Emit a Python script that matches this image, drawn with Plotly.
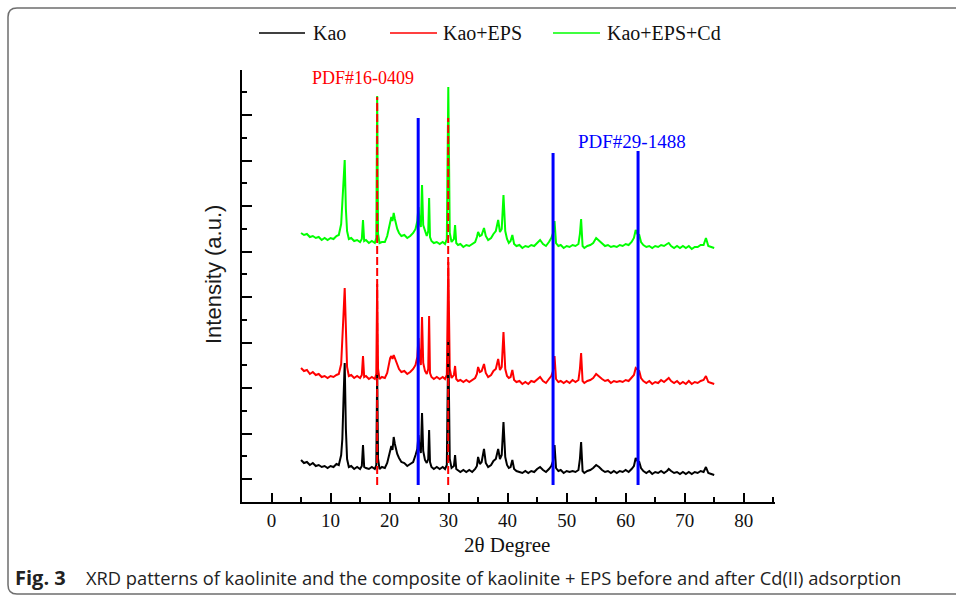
import plotly.graph_objects as go

# ---- data (2θ grid shared by the three patterns; intensity in a.u.) ----
two_theta = [
    5.0, 5.5, 6.0, 6.5, 7.0, 7.5, 8.0, 8.5, 9.0, 9.5,
    10.0, 10.5, 11.0, 11.4, 11.8, 12.0, 12.2, 12.4, 12.6, 12.8,
    13.1, 13.5, 14.0, 14.5, 15.0, 15.3, 15.5, 15.7, 16.0, 16.5,
    17.0, 17.5, 17.75, 17.9, 18.05, 18.3, 18.7, 19.2, 19.6, 19.9,
    20.1, 20.3, 20.5, 20.7, 20.9, 21.1, 21.3, 21.6, 22.0, 22.5,
    23.0, 23.5, 24.0, 24.4, 24.7, 24.9, 25.1, 25.3, 25.5, 25.7,
    26.0, 26.3, 26.55, 26.7, 26.85, 27.1, 27.5, 28.0, 28.5, 29.0,
    29.4, 29.7, 29.95, 30.2, 30.5, 30.9, 31.1, 31.3, 31.6, 32.0,
    32.5, 33.0, 33.5, 34.0, 34.5, 34.8, 35.0, 35.3, 35.6, 36.0,
    36.3, 36.7, 37.2, 37.6, 38.0, 38.4, 38.7, 39.0, 39.3, 39.6,
    39.9, 40.2, 40.5, 40.8, 41.1, 41.5, 42.0, 42.5, 43.0, 43.5,
    44.0, 44.5, 45.0, 45.5, 46.0, 46.5, 47.0, 47.4, 47.7, 47.95,
    48.2, 48.6, 49.0, 49.5, 50.0, 50.5, 51.0, 51.5, 52.0, 52.25,
    52.45, 52.7, 53.0, 53.5, 54.0, 54.5, 55.0, 55.5, 56.0, 56.5,
    57.0, 57.5, 58.0, 58.5, 59.0, 59.5, 60.0, 60.5, 61.0, 61.4,
    61.7, 62.0, 62.3, 62.6, 63.0, 63.5, 64.0, 64.5, 65.0, 65.5,
    66.0, 66.5, 67.0, 67.3, 67.7, 68.2, 68.7, 69.2, 69.7, 70.2,
    70.7, 71.2, 71.7, 72.2, 72.7, 73.2, 73.6, 74.0, 74.5, 75.0,
]

kao = [
    19, 16, 17, 14, 16, 13, 14, 12, 13, 11,
    13, 12, 15, 14, 24, 40, 80, 116, 50, 20,
    12, 13, 10, 12, 10, 13, 34, 12, 11, 10,
    12, 10, 14, 106, 20, 10, 12, 11, 16, 24,
    30, 33, 29, 42, 35, 30, 25, 21, 17, 16,
    13, 15, 17, 24, 30, 44, 30, 26, 66, 28,
    19, 16, 20, 49, 17, 12, 10, 12, 10, 12,
    10, 14, 139, 20, 11, 13, 24, 10, 9, 7,
    9, 7, 9, 7, 10, 13, 22, 15, 17, 30,
    16, 12, 14, 18, 20, 30, 20, 24, 57, 22,
    14, 11, 12, 19, 10, 8, 7, 6, 8, 6,
    8, 7, 10, 12, 9, 7, 10, 13, 18, 34,
    11, 8, 9, 6, 8, 7, 8, 7, 9, 20,
    37, 8, 6, 8, 9, 11, 14, 12, 9, 7,
    8, 6, 8, 6, 8, 7, 9, 7, 10, 13,
    21, 18, 17, 11, 8, 6, 8, 5, 7, 6,
    8, 6, 8, 10, 8, 6, 7, 5, 7, 5,
    7, 5, 7, 6, 8, 7, 12, 6, 5, 4,
]

kao_eps = [
    111, 108, 109, 105, 107, 104, 105, 102, 103, 101,
    103, 102, 104, 105, 115, 135, 165, 191, 140, 112,
    103, 104, 101, 103, 101, 104, 123, 102, 103, 100,
    102, 100, 105, 195, 110, 100, 102, 101, 106, 115,
    121, 123, 120, 124, 121, 118, 114, 110, 107, 108,
    105, 107, 110, 114, 122, 141, 120, 114, 162, 116,
    108, 105, 110, 163, 106, 102, 100, 102, 100, 102,
    100, 104, 217, 110, 101, 104, 113, 100, 98, 99,
    97, 99, 97, 99, 101, 105, 112, 107, 108, 115,
    106, 102, 104, 108, 110, 120, 109, 112, 147, 110,
    103, 101, 102, 109, 99, 97, 98, 95, 97, 95,
    98, 97, 100, 102, 98, 96, 100, 103, 108, 123,
    100, 97, 98, 96, 98, 96, 99, 97, 99, 110,
    126, 98, 96, 98, 99, 101, 105, 102, 100, 98,
    99, 96, 98, 97, 98, 97, 99, 98, 101, 104,
    111, 109, 108, 101, 98, 96, 98, 95, 97, 96,
    99, 97, 99, 101, 98, 96, 98, 95, 97, 95,
    98, 95, 97, 96, 98, 99, 103, 97, 96, 95,
]

kao_eps_cd = [
    246, 244, 245, 242, 243, 241, 242, 239, 241, 239,
    241, 240, 243, 244, 255, 275, 295, 319, 270, 248,
    240, 241, 238, 239, 237, 240, 259, 238, 239, 236,
    238, 236, 241, 383, 245, 236, 237, 237, 243, 252,
    259, 262, 258, 266, 260, 255, 250, 246, 243, 244,
    241, 243, 246, 250, 258, 272, 256, 252, 294, 254,
    247, 243, 248, 281, 242, 238, 236, 237, 235, 237,
    235, 240, 392, 246, 237, 240, 254, 236, 234, 235,
    232, 234, 233, 235, 237, 242, 247, 243, 244, 251,
    243, 239, 241, 245, 248, 259, 247, 250, 284, 248,
    240, 236, 238, 244, 235, 233, 234, 231, 233, 232,
    234, 233, 236, 239, 235, 233, 237, 241, 246, 258,
    236, 233, 234, 231, 233, 232, 234, 233, 235, 245,
    260, 233, 231, 233, 234, 236, 241, 238, 236, 233,
    234, 232, 233, 232, 234, 233, 235, 234, 237, 241,
    249, 245, 244, 237, 234, 232, 233, 231, 233, 232,
    234, 233, 235, 236, 233, 231, 233, 231, 233, 231,
    233, 230, 232, 232, 234, 234, 241, 233, 232, 231,
]

# reference card positions (2θ) and drawn heights
pdf16_pos = [17.9, 29.93]
pdf16_top = [382, 361]
pdf29_pos = [24.85, 47.7, 62.1]
pdf29_top = [361, 326, 328]
ref_bottom = -6

series_names = ["Kao", "Kao+EPS", "Kao+EPS+Cd"]
series_colors = ["#000000", "#ff0000", "#00ff00"]
x_tick_vals = [0, 10, 20, 30, 40, 50, 60, 70, 80]

# ---- layout geometry (body margin removed in the page, so pixels map 1:1) ----
W, H = 956, 597
ML, MR, MT, MB = 242, 181, 70, 95
PW, PH = W - ML - MR, H - MT - MB


def pxx(x):
    return (x - ML) / PW


def pxy(y):
    return (H - MB - y) / PH


serif = "Liberation Serif, Times New Roman, serif"
sans = "Open Sans, Noto Sans, sans-serif"

fig = go.Figure()

for ys, name, col in zip([kao_eps_cd, kao_eps, kao], series_names[::-1], series_colors[::-1]):
    fig.add_trace(go.Scatter(x=two_theta, y=ys, mode="lines", name=name,
                             line=dict(color=col, width=2), showlegend=False))

for xpos, top in zip(pdf16_pos, pdf16_top):
    fig.add_trace(go.Scatter(x=[xpos, xpos], y=[ref_bottom, top], mode="lines",
                             line=dict(color="#ff0000", width=2, dash="8px,3px"),
                             showlegend=False, hoverinfo="skip"))

for xpos, top in zip(pdf29_pos, pdf29_top):
    fig.add_trace(go.Scatter(x=[xpos, xpos], y=[ref_bottom, top], mode="lines",
                             line=dict(color="#0000ff", width=3),
                             showlegend=False, hoverinfo="skip"))

shapes = []
annotations = []

# outer frame (rounded top-left / bottom-left), runs off the right edge
x0, x1, y0, y1 = pxx(8), pxx(1100), pxy(8), pxy(594)
rx, ry = 9 / PW, 9 / PH
frame_path = (f"M {x1},{y1} L {x0+rx},{y1} Q {x0},{y1} {x0},{y1+ry} "
              f"L {x0},{y0-ry} Q {x0},{y0} {x0+rx},{y0} L {x1},{y0}")
shapes.append(dict(type="path", xref="paper", yref="paper", path=frame_path,
                   line=dict(color="#6e6e6e", width=1.5), layer="below"))

# legend drawn manually
leg_items = [(259, 305, 311), (390, 437, 441), (553, 600, 605)]
for (l0, l1, tx), name, col in zip(leg_items, series_names, series_colors):
    shapes.append(dict(type="line", xref="paper", yref="paper",
                       x0=pxx(l0), x1=pxx(l1), y0=pxy(33), y1=pxy(33),
                       line=dict(color=col, width=1.5)))
    annotations.append(dict(text=name, xref="paper", yref="paper", x=pxx(tx), y=pxy(33),
                            xanchor="left", yanchor="middle", showarrow=False,
                            font=dict(family=serif, size=20, color="#111")))

# card labels
annotations.append(dict(text="PDF#16-0409", x=15.5, y=401, xref="x", yref="y",
                        showarrow=False, font=dict(family=serif, size=18, color="#ff0000")))
annotations.append(dict(text="PDF#29-1488", x=61.1, y=338, xref="x", yref="y",
                        showarrow=False, font=dict(family=serif, size=19, color="#0000ff")))

# axis titles
annotations.append(dict(text="Intensity (a.u.)", xref="paper", yref="paper",
                        x=pxx(213), y=pxy(275), textangle=-90, showarrow=False,
                        xanchor="center", yanchor="middle",
                        font=dict(family="Liberation Sans, Arial, sans-serif", size=22, color="#1a1a1a")))
annotations.append(dict(text="2θ Degree", xref="paper", yref="paper",
                        x=pxx(507), y=pxy(545), showarrow=False,
                        xanchor="center", yanchor="middle",
                        font=dict(family=serif, size=21, color="#111")))

# caption
annotations.append(dict(text="<b>Fig. 3</b>", xref="paper", yref="paper", x=pxx(13), y=pxy(577),
                        xanchor="left", yanchor="middle", showarrow=False,
                        font=dict(family=sans, size=20, color="#222")))
annotations.append(dict(text="XRD patterns of kaolinite and the composite of kaolinite + EPS before and after Cd(II) adsorption",
                        xref="paper", yref="paper", x=pxx(84), y=pxy(577),
                        xanchor="left", yanchor="middle", showarrow=False,
                        font=dict(family=sans, size=18.3, color="#222")))

fig.update_layout(
    width=W, height=H,
    margin=dict(l=ML, r=MR, t=MT, b=MB),
    paper_bgcolor="white", plot_bgcolor="white",
    shapes=shapes, annotations=annotations,
    showlegend=False,
)

fig.update_xaxes(
    range=[-5, 85.3], tickvals=x_tick_vals, ticks="inside", ticklen=9, tickwidth=2,
    tickcolor="black", showline=True, linecolor="black", linewidth=2,
    showgrid=False, zeroline=False,
    tickfont=dict(family=serif, size=19, color="#111"),
    minor=dict(dtick=5, tick0=0, ticks="inside", ticklen=5, tickwidth=2, tickcolor="black", showgrid=False),
)
fig.update_yaxes(
    range=[-23, 409], tick0=0, dtick=45.5, ticks="inside", ticklen=10, tickwidth=2,
    tickcolor="black", showline=True, linecolor="black", linewidth=2,
    showgrid=False, zeroline=False, showticklabels=False,
    minor=dict(dtick=22.75, tick0=0, ticks="inside", ticklen=5, tickwidth=2, tickcolor="black", showgrid=False),
)

fig.write_html(
    "out.html",
    config={"displayModeBar": False},
    post_script="document.body.style.margin='0';document.body.style.overflow='hidden';",
)
